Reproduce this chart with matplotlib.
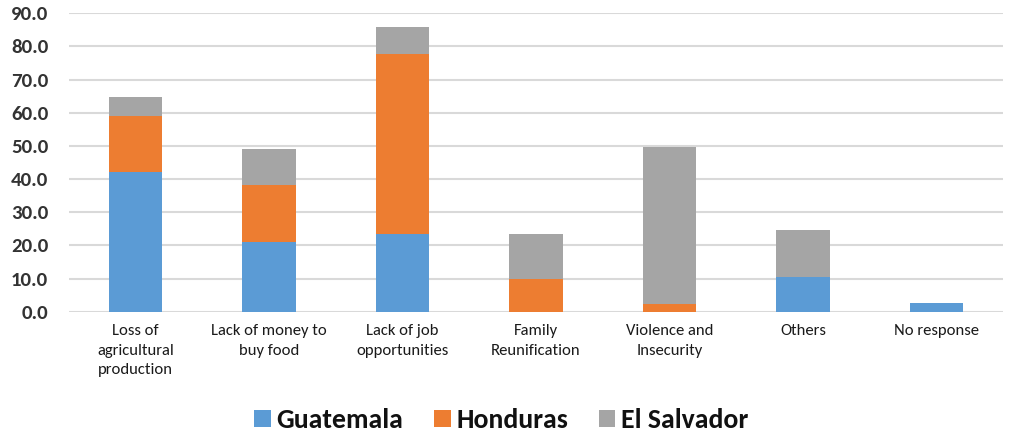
import numpy as np
from matplotlib import pyplot as plt

# categories and values
categories = ['Loss of\nagricultural\nproduction', 'Lack of money to\nbuy food',
              'Lack of job\nopportunities', 'Family\nReunification',
              'Violence and\nInsecurity', 'Others', 'No response']
guatemala = [42.2, 21.1, 23.3, 0.0, 0.0, 10.6, 2.7]
honduras = [16.8, 17.1, 54.3, 9.9, 2.3, 0.0, 0.0]
el_salvador = [5.7, 10.9, 8.2, 13.4, 47.5, 14.0, 0.0]
series_names = ['Guatemala', 'Honduras', 'El Salvador']
colors = ['#5B9BD5', '#ED7D31', '#A5A5A5']
yticks = np.arange(0, 91, 10)

font = ['Carlito', 'DejaVu Sans']

fig = plt.figure(figsize=(10.27, 4.48), dpi=100)
ax = fig.add_axes([69 / 1027, 1 - 311.7 / 448, 934 / 1027, 298.4 / 448])

x = np.arange(len(categories))
bottom = np.zeros(len(categories))
for name, vals, c in zip(series_names, [guatemala, honduras, el_salvador], colors):
    vals = np.array(vals)
    ax.bar(x, vals, width=0.4, bottom=bottom, color=c, label=name, zorder=3)
    bottom += vals

ax.set_xlim(-0.5, len(categories) - 0.5)
ax.set_ylim(0, 90)
ax.set_yticks(yticks)
ax.set_yticklabels(['%.1f' % v for v in yticks], fontsize=15, fontweight='bold',
                   color='#333333', family=font)
ax.set_xticks(x)
ax.set_xticklabels(categories, fontsize=12, family=font, color='#1a1a1a',
                   linespacing=1.5, va='top')
ax.tick_params(axis='both', length=0)
ax.tick_params(axis='y', pad=15)
ax.tick_params(axis='x', pad=9)
ax.grid(axis='y', color='#D9D9D9', linewidth=1.5, zorder=0)
for s in ax.spines.values():
    s.set_visible(False)

leg = fig.legend(loc='center', bbox_to_anchor=(0.488, 1 - 420 / 448), ncol=3,
                 frameon=False, handlelength=0.6, handleheight=0.55,
                 handletextpad=0.2, columnspacing=1.1,
                 prop={'family': font, 'size': 20, 'weight': 'bold'})
for t in leg.get_texts():
    t.set_color('#111111')

fig.savefig('out.png', dpi=100)
